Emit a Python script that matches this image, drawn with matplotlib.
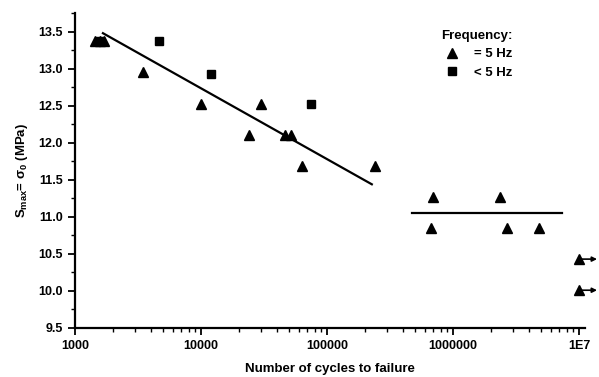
import matplotlib
matplotlib.use("Agg")
import matplotlib.pyplot as plt
from matplotlib.ticker import LogLocator, MultipleLocator, NullFormatter
from matplotlib.lines import Line2D

plt.rcParams['font.family'] = ['Liberation Sans', 'DejaVu Sans']
plt.rcParams['font.weight'] = 'bold'
plt.rcParams['mathtext.fontset'] = 'custom'
plt.rcParams['mathtext.rm'] = 'Liberation Sans:bold'
plt.rcParams['mathtext.it'] = 'Liberation Sans:bold'
plt.rcParams['mathtext.bf'] = 'Liberation Sans:bold'

# data: triangles (= 5 Hz)
tri_n = [1440, 1580, 1700, 3470, 10000, 24000, 29900, 46400, 51800, 63000, 240000,
         692000, 2340000, 668000, 2680000, 4800000]
tri_s = [13.37, 13.37, 13.37, 12.95, 12.53, 12.11, 12.53, 12.11, 12.11, 11.69, 11.69,
         11.27, 11.27, 10.85, 10.85, 10.85]
# squares (< 5 Hz)
sq_n = [1580, 4640, 12000, 74600]
sq_s = [13.37, 13.37, 12.93, 12.52]
# run-outs
run_n = [1.0e7, 1.0e7]
run_s = [10.43, 10.01]
run_arrow_end = 1.39e7
# fit lines
fit1_n = [1670, 227000]
fit1_s = [13.48, 11.44]
fit2_n = [473000, 7.3e6]
fit2_s = [11.05, 11.05]

xticks = [1e3, 1e4, 1e5, 1e6, 1e7]
xticklabels = ['1000', '10000', '100000', '1000000', '1E7']
yticks = [9.5, 10.0, 10.5, 11.0, 11.5, 12.0, 12.5, 13.0, 13.5]

fig = plt.figure(figsize=(5.99, 3.77), dpi=100)
ax = fig.add_axes([0.125, 0.130, 0.852, 0.835])

ax.plot(fit1_n, fit1_s, color='black', lw=1.6)
ax.plot(fit2_n, fit2_s, color='black', lw=1.6)
ax.plot(tri_n, tri_s, '^', color='black', ms=7.5, ls='none')
ax.plot(sq_n, sq_s, 's', color='black', ms=5.5, ls='none')
ax.plot(run_n, run_s, '^', color='black', ms=7.5, ls='none', clip_on=False, zorder=5)
for n, s in zip(run_n, run_s):
    ax.annotate('', xy=(run_arrow_end, s), xytext=(n, s), annotation_clip=False,
                arrowprops=dict(arrowstyle='-|>', color='black', lw=1.2,
                                shrinkA=0, shrinkB=0, mutation_scale=7))

ax.set_xscale('log')
ax.set_xlim(1000, 1.12e7)
ax.set_ylim(9.5, 13.75)
ax.set_xticks(xticks)
ax.set_xticklabels(xticklabels)
ax.xaxis.set_minor_locator(LogLocator(base=10, subs=range(2, 10)))
ax.xaxis.set_minor_formatter(NullFormatter())
ax.set_yticks(yticks)
ax.set_yticklabels([f'{v:.1f}' for v in yticks])
ax.yaxis.set_minor_locator(MultipleLocator(0.25))

for sp in ['top', 'right']:
    ax.spines[sp].set_visible(False)
for sp in ['left', 'bottom']:
    ax.spines[sp].set_linewidth(1.6)
ax.tick_params(which='major', direction='out', length=5, width=1.3, labelsize=9)
ax.tick_params(which='minor', direction='out', length=3, width=1.0)
for lab in ax.get_xticklabels() + ax.get_yticklabels():
    lab.set_fontweight('bold')

ax.set_xlabel('Number of cycles to failure', fontsize=9.5, fontweight='bold', labelpad=8)
ax.set_ylabel(r'S$_{\mathrm{max}}$= σ$_{\mathrm{0}}$ (MPa)', fontsize=9.5, fontweight='bold', labelpad=6)

handles = [Line2D([], [], marker='^', color='black', ls='none', ms=7.5),
           Line2D([], [], marker='s', color='black', ls='none', ms=5.5)]
leg = ax.legend(handles, ['= 5 Hz', '< 5 Hz'], title='Frequency:', frameon=False,
                loc='upper left', bbox_to_anchor=(0.70, 0.975), prop={'size': 9.5, 'weight': 'bold'},
                handletextpad=0.9, labelspacing=0.45, borderpad=0.2, handlelength=1.6)
leg.get_title().set_fontsize(9.5)
leg.get_title().set_fontweight('bold')

fig.savefig('out.png', dpi=100)
